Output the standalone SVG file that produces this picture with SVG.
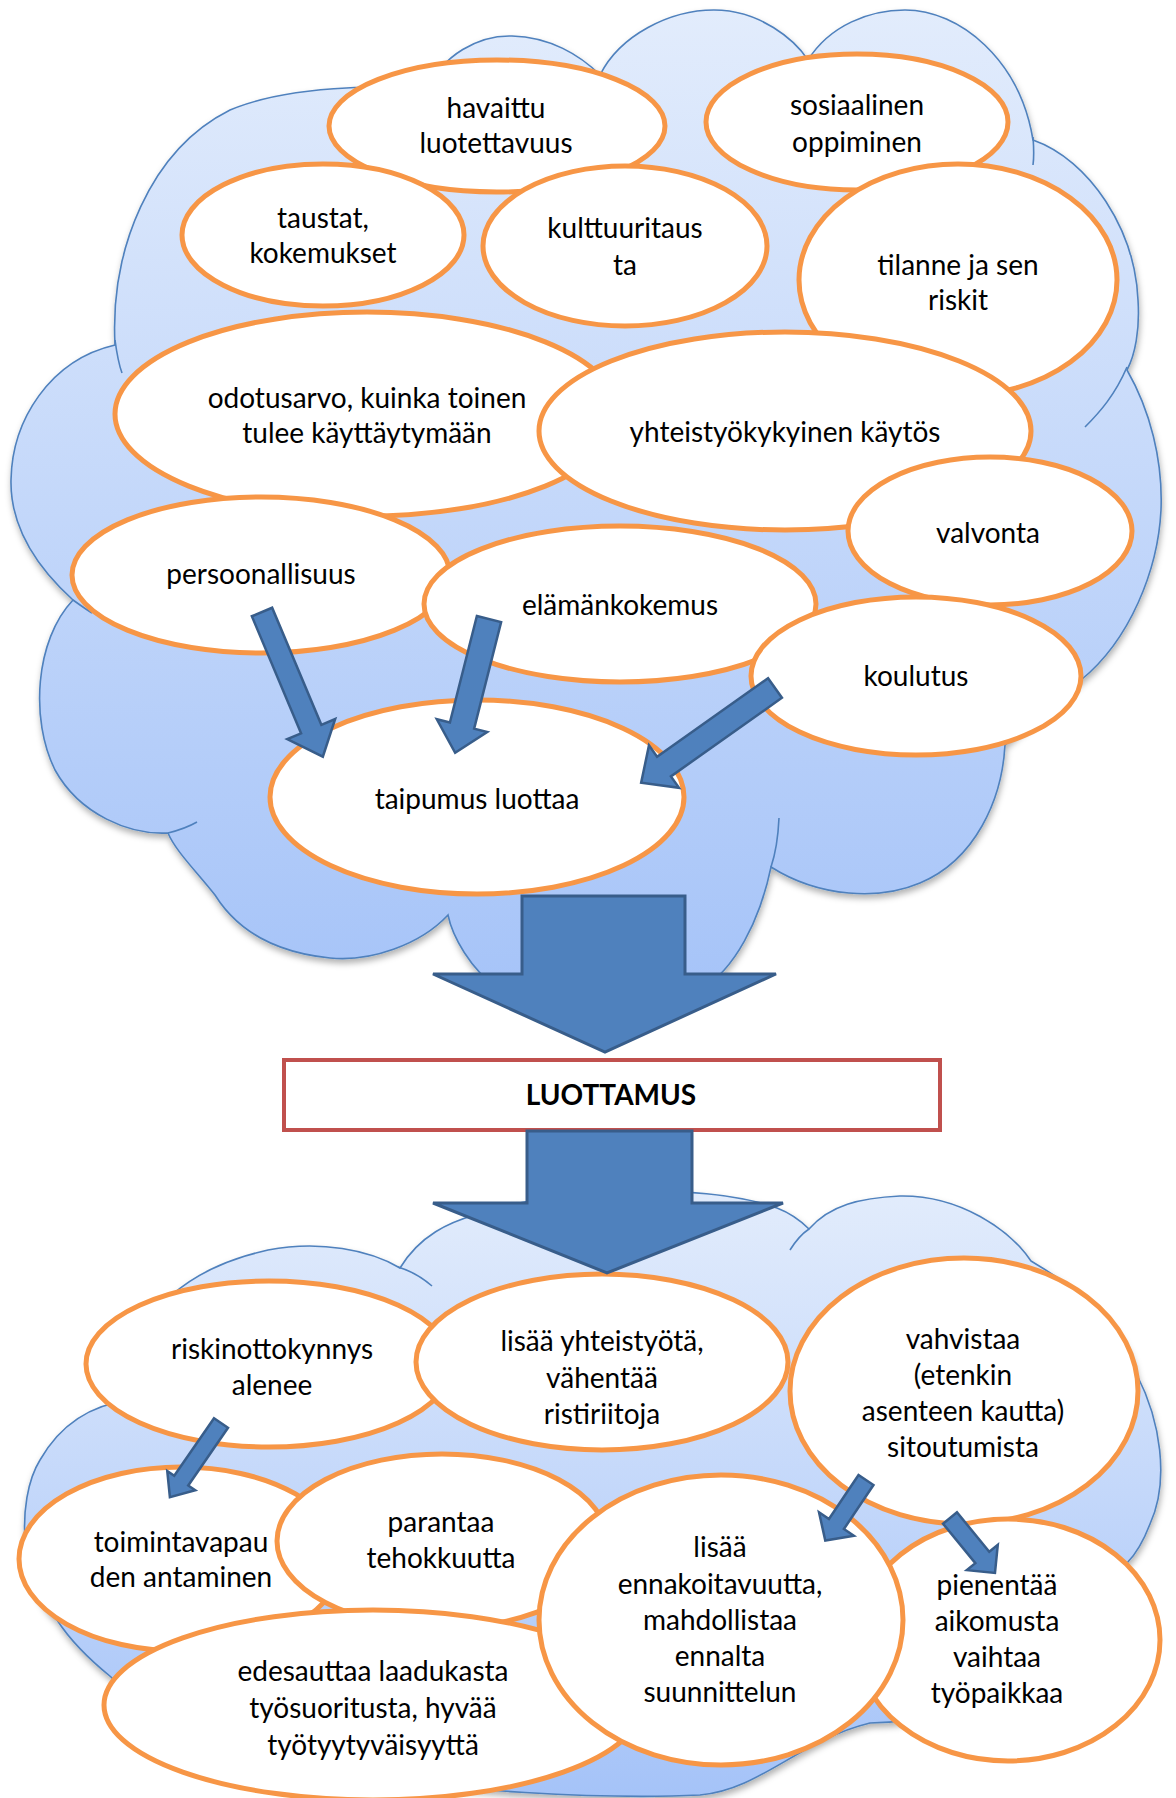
<svg xmlns="http://www.w3.org/2000/svg" width="1176" height="1798" viewBox="0 0 1176 1798">
<style>
.node ellipse{fill:#fff;stroke:#F79646;stroke-width:5}
.node text,.lbl{font-family:Lato,"Liberation Sans",sans-serif;font-size:28px;fill:#000;text-anchor:middle}
.cloud{stroke:#4F81BD;stroke-width:1.6}
.tail{fill:none;stroke:#4F81BD;stroke-width:1.6}
.arr{fill:#4F81BD;stroke:#385D8A;stroke-width:3;stroke-linejoin:miter}
.sarr{fill:#4F81BD;stroke:#385D8A;stroke-width:2.5}
</style>
<defs>
<linearGradient id="g1" x1="0" y1="0" x2="0" y2="1">
<stop offset="0" stop-color="#E2ECFC"/>
<stop offset="1" stop-color="#A5C3F8"/>
</linearGradient>
<linearGradient id="g2" x1="0" y1="0" x2="0" y2="1">
<stop offset="0" stop-color="#E2ECFC"/>
<stop offset="1" stop-color="#A5C3F8"/>
</linearGradient>
<filter id="sh" x="-5%" y="-5%" width="110%" height="115%">
<feDropShadow dx="1" dy="4" stdDeviation="3" flood-color="#000" flood-opacity="0.3"/>
</filter>
</defs>

<g id="cloud-top">
<path class="cloud" fill="url(#g1)" filter="url(#sh)" d="M115,345 C110,250 150,150 230,110 C290,85 380,85 430,90 C440,55 480,35 512,36 C550,37 580,55 600,75 C620,35 670,10 714,10 C760,10 795,40 808,60 C830,25 870,10 905,10 C960,10 1020,60 1033,140 C1090,160 1135,230 1138,300 C1140,330 1135,355 1127,370 C1150,410 1163,460 1161,510 C1158,570 1130,640 1081,680 C1050,710 1020,730 1005,745 C1002,800 975,860 920,883 C880,900 820,898 771,867 C760,920 735,970 700,990 C650,1015 540,1015 500,990 C470,970 452,935 448,915 C420,945 370,962 330,958 C280,953 240,935 215,895 C195,870 175,850 168,833 C130,835 80,815 55,770 C30,720 35,640 73,600 C40,570 10,530 11,480 C12,420 50,360 115,345 Z"/>
<path class="tail" d="M115,340 C117,355 119,365 122,373"/>
<path class="tail" d="M1033,137 C1034,150 1034,158 1033,165"/>
<path class="tail" d="M1127,367 C1115,395 1100,412 1085,427"/>
<path class="tail" d="M779,818 C778,840 775,855 771,867"/>
<path class="tail" d="M168,833 C180,830 190,826 197,822"/>
<path class="tail" d="M73,600 C80,605 87,610 92,613"/>
</g>

<g id="cloud-bottom">
<path class="cloud" fill="url(#g2)" filter="url(#sh)" d="M57,1620 C20,1590 15,1500 40,1460 C60,1425 90,1405 130,1400 C125,1320 180,1270 268,1250 C320,1240 370,1250 400,1268 C420,1235 450,1222 475,1215 C540,1190 700,1180 777,1208 C790,1213 800,1220 809,1229 C830,1205 860,1198 900,1196 C960,1195 1010,1230 1031,1261 C1080,1290 1130,1330 1137,1375 C1160,1420 1170,1480 1150,1524 C1140,1550 1130,1560 1127,1563 C1110,1650 1000,1720 870,1723 C800,1740 760,1790 700,1795 C600,1800 450,1790 350,1775 C250,1760 150,1720 111,1677 C90,1660 70,1640 57,1620 Z"/>
<path class="tail" d="M398,1267 C415,1272 425,1280 432,1286"/>
<path class="tail" d="M809,1229 C800,1235 795,1242 790,1250"/>
<path class="tail" d="M1137,1372 C1135,1390 1130,1405 1127,1414"/>
</g>

<g id="n-havaittu" class="node"><ellipse cx="497" cy="126" rx="168" ry="66"/><text x="496" y="118">havaittu</text><text x="496" y="153">luotettavuus</text></g>
<g id="n-sosiaalinen" class="node"><ellipse cx="857" cy="122" rx="151" ry="68"/><text x="857" y="115">sosiaalinen</text><text x="857" y="152">oppiminen</text></g>
<g id="n-taustat" class="node"><ellipse cx="323" cy="235" rx="141" ry="71"/><text x="323" y="228">taustat,</text><text x="323" y="263">kokemukset</text></g>
<g id="n-kulttuuri" class="node"><ellipse cx="625" cy="246" rx="142" ry="80"/><text x="625" y="238">kulttuuritaus</text><text x="625" y="275">ta</text></g>
<g id="n-tilanne" class="node"><ellipse cx="958" cy="280" rx="159" ry="116"/><text x="958" y="275">tilanne ja sen</text><text x="958" y="310">riskit</text></g>
<g id="n-odotusarvo" class="node"><ellipse cx="367" cy="414" rx="252" ry="102"/><text x="367" y="408">odotusarvo, kuinka toinen</text><text x="367" y="443">tulee käyttäytymään</text></g>
<g id="n-yhteisty" class="node"><ellipse cx="785" cy="431" rx="246" ry="99"/><text x="785" y="442">yhteistyökykyinen käytös</text></g>
<g id="n-valvonta" class="node"><ellipse cx="990" cy="531" rx="142" ry="74"/><text x="988" y="543">valvonta</text></g>
<g id="n-persoonallisuus" class="node"><ellipse cx="261" cy="575" rx="189" ry="78"/><text x="261" y="584">persoonallisuus</text></g>
<g id="n-elamankokemus" class="node"><ellipse cx="620" cy="604" rx="196" ry="78"/><text x="620" y="615">elämänkokemus</text></g>
<g id="n-koulutus" class="node"><ellipse cx="916" cy="676" rx="165" ry="79"/><text x="916" y="686">koulutus</text></g>
<g id="n-taipumus" class="node"><ellipse cx="477" cy="797" rx="207" ry="97"/><text x="477" y="809">taipumus luottaa</text></g>

<g id="n-luottamus"><rect x="284" y="1060" width="656" height="70" fill="#fff" stroke="#C0504D" stroke-width="4"/><text class="lbl" x="611" y="1105" font-weight="bold">LUOTTAMUS</text></g>

<g id="n-riskin" class="node"><ellipse cx="269" cy="1364" rx="183" ry="83"/><text x="272" y="1359">riskinottokynnys</text><text x="272" y="1395">alenee</text></g>
<g id="n-lisaayht" class="node"><ellipse cx="602" cy="1362" rx="186" ry="88"/><text x="602" y="1351">lisää yhteistyötä,</text><text x="602" y="1388">vähentää</text><text x="602" y="1424">ristiriitoja</text></g>
<g id="n-vahvistaa" class="node"><ellipse cx="964" cy="1391" rx="174" ry="133"/><text x="963" y="1349">vahvistaa</text><text x="963" y="1385">(etenkin</text><text x="963" y="1421">asenteen kautta)</text><text x="963" y="1457">sitoutumista</text></g>
<g id="n-toiminta" class="node"><ellipse cx="181" cy="1559" rx="162" ry="92"/><text x="181" y="1552">toimintavapau</text><text x="181" y="1587">den antaminen</text></g>
<g id="n-parantaa" class="node"><ellipse cx="442" cy="1541" rx="165" ry="87"/><text x="441" y="1532">parantaa</text><text x="441" y="1568">tehokkuutta</text></g>
<g id="n-edesauttaa" class="node"><ellipse cx="373" cy="1705" rx="269" ry="95"/><text x="373" y="1681">edesauttaa laadukasta</text><text x="373" y="1718">työsuoritusta, hyvää</text><text x="373" y="1755">työtyytyväisyyttä</text></g>
<g id="n-pienentaa" class="node"><ellipse cx="1008" cy="1640" rx="152" ry="121"/><text x="997" y="1595">pienentää</text><text x="997" y="1631">aikomusta</text><text x="997" y="1667">vaihtaa</text><text x="997" y="1703">työpaikkaa</text></g>
<g id="n-lisaaennak" class="node"><ellipse cx="721" cy="1620" rx="182" ry="145"/><text x="720" y="1557">lisää</text><text x="720" y="1594">ennakoitavuutta,</text><text x="720" y="1630">mahdollistaa</text><text x="720" y="1666">ennalta</text><text x="720" y="1702">suunnittelun</text></g>

<g id="connectors">
<path class="arr" d="M522,896 L685,896 L685,974 L776,974 L605,1052 L433,974 L522,974 Z"/>
<path class="arr" d="M527,1131 L692,1131 L692,1203 L783,1203 L607,1273 L433,1203 L527,1203 Z"/>
<path class="sarr" transform="translate(262,612) rotate(-22.8)" d="M-11,0 L11,0 L11,127 L26,127 L0,157 L-26,127 L-11,127 Z"/>
<path class="sarr" transform="translate(489,619) rotate(14.2)" d="M-12.5,0 L12.5,0 L12.5,110 L26,110 L0,138 L-26,110 L-12.5,110 Z"/>
<path class="sarr" transform="translate(775,688) rotate(54.7)" d="M-12,0 L12,0 L12,136 L26,136 L0,164 L-26,136 L-12,136 Z"/>
<path class="sarr" transform="translate(221,1423) rotate(34.6)" d="M-8.5,0 L8.5,0 L8.5,70 L17,70 L0,90 L-17,70 L-8.5,70 Z"/>
<path class="sarr" transform="translate(866,1480) rotate(33.9)" d="M-9,0 L9,0 L9,53 L21,53 L0,73 L-21,53 L-9,53 Z"/>
<path class="sarr" transform="translate(950,1518) rotate(-39.3)" d="M-9,0 L9,0 L9,51 L20,51 L0,71 L-20,51 L-9,51 Z"/>
</g>
</svg>
